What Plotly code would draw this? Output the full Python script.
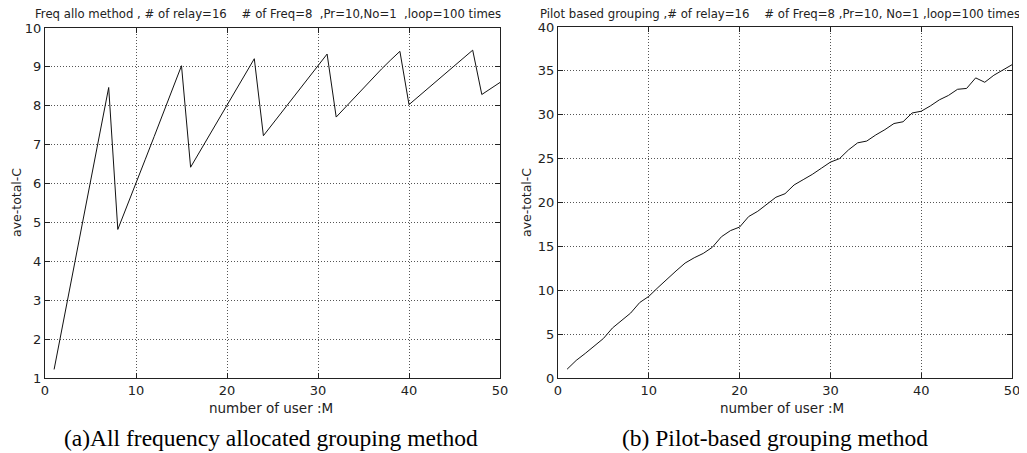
import plotly.graph_objects as go

users = list(range(1, 51))

freq_allo = [1.22, 2.43, 3.64, 4.84, 6.05, 7.26, 8.47,
             4.82, 5.40, 6.00, 6.61, 7.21, 7.83, 8.43, 9.03,
             6.42, 6.82, 7.22, 7.61, 8.00, 8.40, 8.81, 9.21,
             7.23, 7.53, 7.83, 8.13, 8.43, 8.73, 9.03, 9.33,
             7.71, 7.96, 8.22, 8.47, 8.71, 8.95, 9.18, 9.40,
             8.03, 8.23, 8.43, 8.63, 8.83, 9.03, 9.23, 9.43,
             8.29, 8.44, 8.60]

pilot_based = [1.0, 2.0, 2.8, 3.6, 4.5, 5.7, 6.6, 7.4, 8.6, 9.3,
               10.3, 11.3, 12.2, 13.1, 13.7, 14.2, 14.9, 16.1, 16.8, 17.2,
               18.4, 19.0, 19.8, 20.6, 21.0, 22.0, 22.6, 23.2, 23.9, 24.6,
               25.0, 26.0, 26.8, 27.0, 27.7, 28.3, 29.0, 29.2, 30.2, 30.4,
               31.0, 31.7, 32.2, 32.9, 33.0, 34.2, 33.7, 34.5, 35.1, 35.7]

x_ticks = [0, 10, 20, 30, 40, 50]
left_y_ticks = [1, 2, 3, 4, 5, 6, 7, 8, 9, 10]
right_y_ticks = [0, 5, 10, 15, 20, 25, 30, 35, 40]

NB = "\u00a0"
title_left = ("Freq allo method , # of relay=16" + NB * 4 + "# of Freq=8" + NB * 2 +
              ",Pr=10,No=1" + NB * 2 + ",loop=100 times")
title_right = ("Pilot based grouping ,# of relay=16" + NB * 4 + "# of Freq=8 ,Pr=10, No=1 ,loop=100 times")
xlabel = "number of user :M"
ylabel = "ave-total-C"
caption_a = "(a)All frequency allocated grouping method"
caption_b = "(b) Pilot-based grouping method"

# The page body has an 8px margin, so the figure is sized to fill the
# remaining window area and positions are given in window pixels.
OFF = 8
W, H = 1027 - OFF, 453 - OFF
SANS = "DejaVu Sans, Arial"

fig = go.Figure()
fig.add_trace(go.Scatter(x=users, y=freq_allo, mode="lines",
                         line=dict(color="#111", width=1), xaxis="x", yaxis="y",
                         showlegend=False, hoverinfo="skip"))
fig.add_trace(go.Scatter(x=users, y=pilot_based, mode="lines",
                         line=dict(color="#111", width=1), xaxis="x2", yaxis="y2",
                         showlegend=False, hoverinfo="skip"))

tickfont = dict(family=SANS, size=13, color="#222")
common = dict(showline=True, linecolor="#222", linewidth=1, mirror="ticks",
              ticks="inside", ticklen=5, tickcolor="#222", tickwidth=1,
              showgrid=True, gridcolor="#555", gridwidth=1, griddash="1px,2px",
              zeroline=False, tickfont=tickfont, automargin=False)


def px_x(p):
    return (p - OFF) / W


def px_y(p):
    return 1 - (p - OFF) / H


fig.update_layout(
    width=W, height=H,
    margin=dict(l=0, r=0, t=0, b=0, pad=0, autoexpand=False),
    paper_bgcolor="white", plot_bgcolor="white",
    xaxis=dict(domain=[px_x(45), px_x(500)], range=[0, 50], tickvals=x_ticks,
               anchor="y", **common),
    yaxis=dict(domain=[px_y(378), px_y(28)], range=[1, 10], tickvals=left_y_ticks,
               anchor="x", **common),
    xaxis2=dict(domain=[px_x(558), px_x(1012)], range=[0, 50], tickvals=x_ticks,
                anchor="y2", **common),
    yaxis2=dict(domain=[px_y(378), px_y(27)], range=[0, 40], tickvals=right_y_ticks,
                anchor="x2", **common),
)

titlefont = dict(family=SANS, size=11.7, color="#222")
labfont = dict(family=SANS, size=13.5, color="#222")
ylabfont = dict(family=SANS, size=12.5, color="#222")
capfont = dict(family="Liberation Serif, Times New Roman", size=23.5, color="black")

ann = [
    dict(text=title_left, x=px_x(268), y=px_y(14), font=titlefont),
    dict(text=title_right, x=px_x(780), y=px_y(14), font=titlefont),
    dict(text=xlabel, x=px_x(271), y=px_y(408), font=labfont),
    dict(text=xlabel, x=px_x(782), y=px_y(408), font=labfont),
    dict(text=ylabel, x=px_x(17), y=px_y(203), font=ylabfont, textangle=-90),
    dict(text=ylabel, x=px_x(527), y=px_y(203), font=ylabfont, textangle=-90),
    dict(text=caption_a, x=px_x(271), y=px_y(438), font=capfont),
    dict(text=caption_b, x=px_x(775), y=px_y(438), font=capfont),
]
for a in ann:
    fig.add_annotation(xref="paper", yref="paper", showarrow=False,
                       xanchor="center", yanchor="middle", **a)

fig.write_html("out.html")
